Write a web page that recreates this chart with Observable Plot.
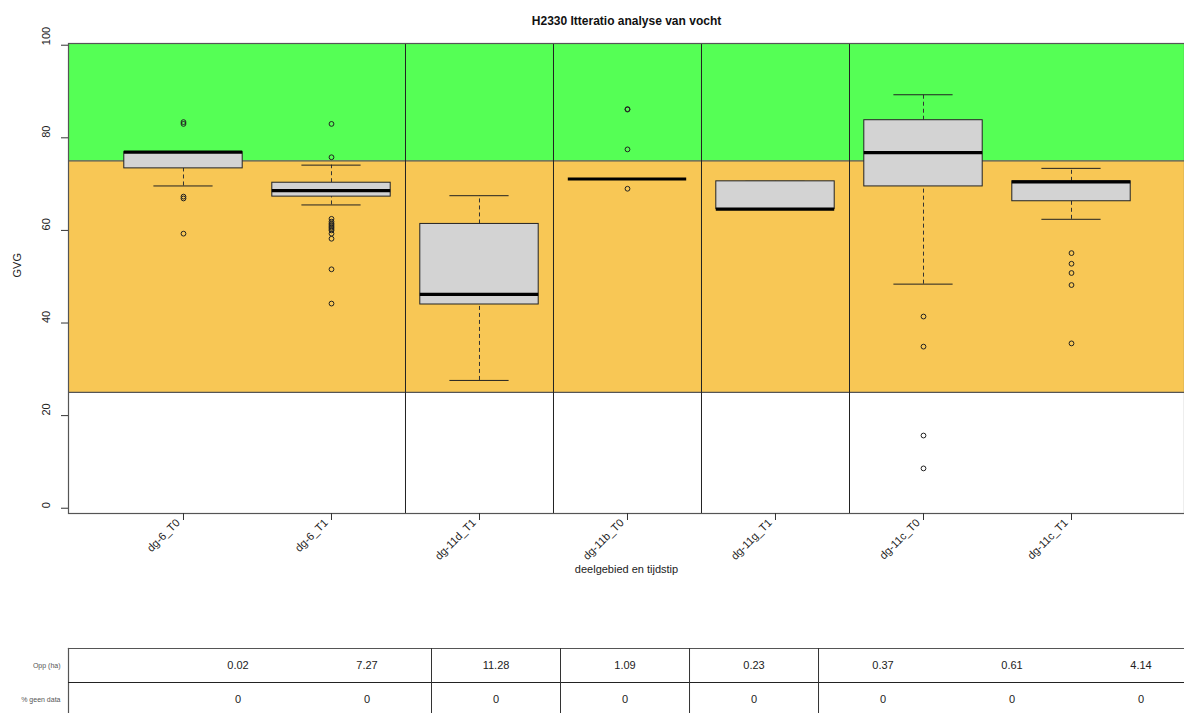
<!DOCTYPE html>
<html>
<head>
<meta charset="utf-8">
<script src="https://cdn.jsdelivr.net/npm/d3@7"></script>
<script src="https://cdn.jsdelivr.net/npm/@observablehq/plot@0.6"></script>
<style>
  body { margin: 0; background: #fff; font-family: "Liberation Sans", Arial, sans-serif; }
  #wrap { position: relative; width: 1184px; height: 713px; overflow: hidden; background: #fff; }
  #main { position: absolute; left: 0; top: 0; }
  #table { position: absolute; left: 0; top: 640px; }
</style>
</head>
<body>
<div id="wrap"><div id="main"></div><div id="table"></div></div>
<script>
// ---------- data ----------
const title = "H2330 Itteratio analyse van vocht";
const yLabel = "GVG";
const xLabel = "deelgebied en tijdstip";
const categories = ["dg-6_T0", "dg-6_T1", "dg-11d_T1", "dg-11b_T0", "dg-11g_T1", "dg-11c_T0", "dg-11c_T1"];
const whiskerHigh = [76.9, 74.1, 67.5, 71.1, 70.6, 89.3, 73.4];
const q3          = [76.9, 70.3, 61.4, 71.1, 70.6, 83.8, 70.6];
const median      = [76.9, 68.6, 46.2, 71.1, 64.6, 76.8, 70.5];
const q1          = [73.4, 67.3, 44.0, 71.1, 64.6, 69.5, 66.3];
const whiskerLow  = [69.6, 65.5, 27.6, 71.1, 64.6, 48.4, 62.4];
const outliers = [
  [83.0, 83.4, 66.9, 67.3, 59.3],
  [83.0, 75.8, 62.5, 61.9, 61.5, 61.2, 60.9, 60.6, 60.3, 60.0, 59.3, 58.2, 51.6, 44.2],
  [],
  [86.1, 86.2, 77.5, 69.0],
  [],
  [41.4, 34.9, 15.7, 8.6],
  [55.1, 52.8, 50.8, 48.2, 35.6]
];
const yTicks = [0, 20, 40, 60, 80, 100];
const zoneLower = [25, 75];
const zoneUpper = [75, 100.4];
const zoneColors = ["#f8c755", "#55ff55"];

const tableRows = ["Opp (ha)", "% geen data"];
const oppValues = ["0.02", "7.27", "11.28", "1.09", "0.23", "0.37", "0.61", "4.14"];
const geenData  = ["0", "0", "0", "0", "0", "0", "0", "0"];

// ---------- derived ----------
const boxes = categories.map((c, i) => ({
  c, x: i + 1, hi: whiskerHigh[i], q3: q3[i], med: median[i], q1: q1[i], lo: whiskerLow[i]
}));
const outlierRows = outliers.flatMap((vals, i) => vals.map(v => ({x: i + 1, v})));
const zones = zoneLower.map((lo, i) => ({lo, hi: zoneUpper[i], fill: zoneColors[i]}));
const prefix = c => c.split("_")[0];
const breaks = categories.slice(1).map((c, i) => prefix(c) !== prefix(categories[i]) ? i + 1.5 : null).filter(d => d !== null);
const font = "Liberation Sans, Arial, sans-serif";

// ---------- main chart ----------
const main = Plot.plot({
  width: 1184, height: 600,
  marginTop: 43, marginBottom: 87, marginLeft: 68, marginRight: 0,
  style: {fontFamily: font, background: "transparent", color: "#111"},
  x: {type: "linear", domain: [0.223, 7.7635], label: null},
  y: {domain: [-1.14, 100.37], label: null},
  color: {type: "identity"},
  marks: [
    Plot.rect(zones, {y1: "lo", y2: "hi", fill: "fill", clip: true}),
    Plot.ruleY(zoneLower, {stroke: "#555", strokeWidth: 1.2}),
    Plot.ruleX(breaks, {stroke: "#222", strokeWidth: 1}),
    Plot.ruleX(boxes, {x: "x", y1: "q3", y2: "hi", stroke: "#333", strokeDasharray: "4,3"}),
    Plot.ruleX(boxes, {x: "x", y1: "lo", y2: "q1", stroke: "#333", strokeDasharray: "4,3"}),
    Plot.ruleY(boxes, {y: "hi", x1: d => d.x - 0.2, x2: d => d.x + 0.2, stroke: "#222"}),
    Plot.ruleY(boxes, {y: "lo", x1: d => d.x - 0.2, x2: d => d.x + 0.2, stroke: "#222"}),
    Plot.rect(boxes, {x1: d => d.x - 0.4, x2: d => d.x + 0.4, y1: "q1", y2: "q3", fill: "#d3d3d3", stroke: "#222", strokeWidth: 1}),
    Plot.ruleY(boxes, {y: "med", x1: d => d.x - 0.4, x2: d => d.x + 0.4, stroke: "#000", strokeWidth: 3.2}),
    Plot.dot(outlierRows, {x: "x", y: "v", r: 2.4, stroke: "#222", fill: "none", strokeWidth: 1}),
    Plot.frame({stroke: "#555", strokeWidth: 1.2}),
    Plot.axisX({ticks: boxes.map(d => d.x), tickSize: 7, tickFormat: () => "", label: null, stroke: "#333"}),
    Plot.axisY({ticks: yTicks, tickSize: 7, tickFormat: () => "", label: null, stroke: "#333"}),
    Plot.text(boxes, {x: "x", frameAnchor: "bottom", text: "c", rotate: -45, textAnchor: "end", lineAnchor: "bottom", dx: -3, dy: 10, fontSize: 11, fill: "#222"}),
    Plot.text(yTicks, {y: d => d, frameAnchor: "left", text: d => String(d), rotate: -90, dx: -22, fontSize: 11, fill: "#222"}),
    Plot.text([yLabel], {frameAnchor: "left", text: d => d, rotate: -90, dx: -51, dy: -1, fontSize: 11, fill: "#222"}),
    Plot.text([xLabel], {frameAnchor: "bottom", text: d => d, dy: 59, fontSize: 11, fill: "#222"}),
    Plot.text([title], {frameAnchor: "top", text: d => d, dy: -27, fontSize: 12, fontWeight: "bold", fill: "#111"})
  ]
});
document.getElementById("main").appendChild(main);

// ---------- table ----------
const table = Plot.plot({
  width: 1184, height: 73,
  marginTop: 8, marginBottom: 0, marginLeft: 68, marginRight: 0,
  style: {fontFamily: font, background: "transparent", color: "#111"},
  x: {type: "linear", domain: [-0.314, 8.337], axis: null},
  y: {type: "linear", domain: [0, 65 / 34], reverse: true, axis: null},
  marks: [
    Plot.frame({anchor: "top", stroke: "#555", strokeWidth: 1.2}),
    Plot.frame({anchor: "left", stroke: "#555", strokeWidth: 1.2}),
    Plot.ruleY([1], {stroke: "#222"}),
    Plot.ruleX(breaks, {stroke: "#333"}),
    Plot.text(tableRows, {y: (d, i) => i + 0.5, frameAnchor: "left", text: d => d, textAnchor: "end", dx: -8, fontSize: 7, fill: "#555"}),
    Plot.text(oppValues, {x: (d, i) => i + 1, y: 0.5, text: d => d, fontSize: 11, fill: "#222"}),
    Plot.text(geenData, {x: (d, i) => i + 1, y: 1.5, text: d => d, fontSize: 11, fill: "#222"})
  ]
});
document.getElementById("table").appendChild(table);
</script>
</body>
</html>
